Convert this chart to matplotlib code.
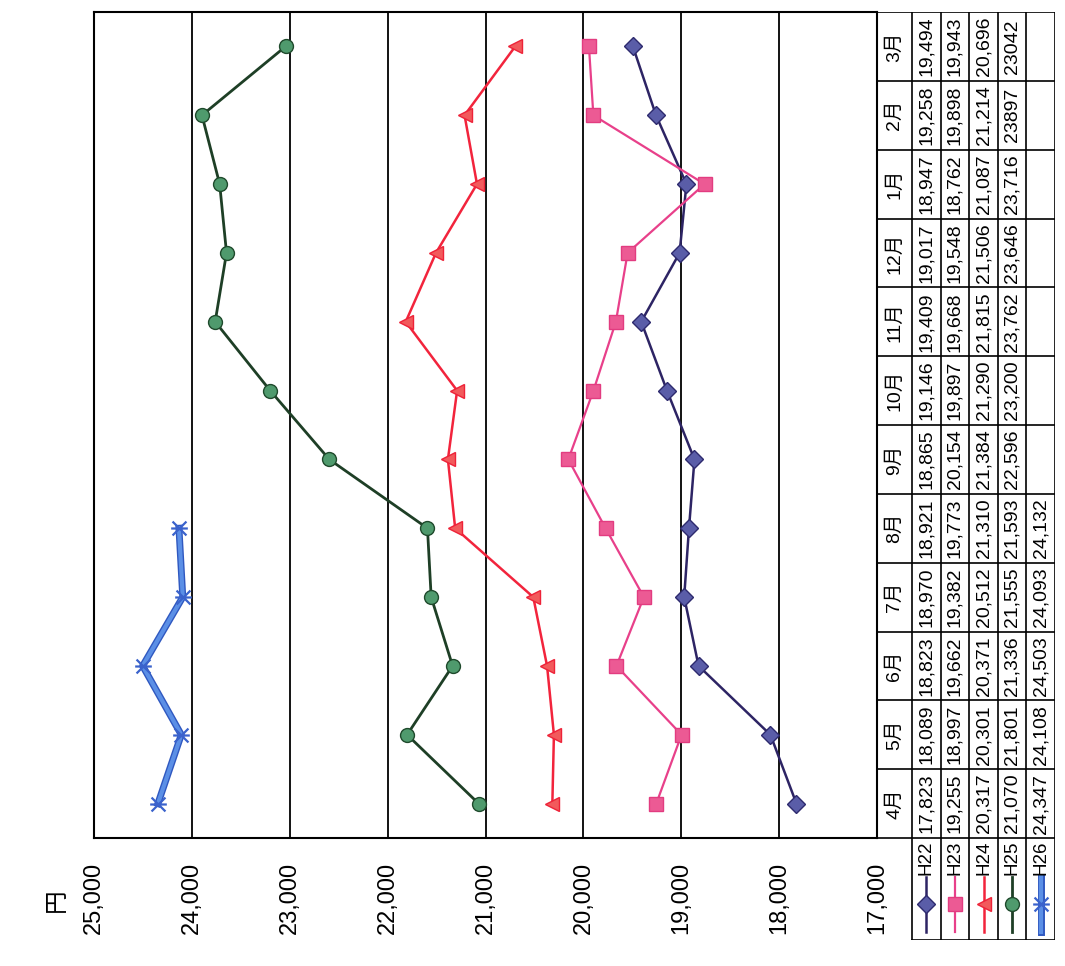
import numpy as np
import matplotlib.pyplot as plt
from matplotlib.path import Path

plt.rcParams['font.family'] = ['Liberation Sans', 'Noto Sans CJK JP']

months = ['4月', '5月', '6月', '7月', '8月', '9月', '10月', '11月', '12月', '1月', '2月', '3月']
series = ['H22', 'H23', 'H24', 'H25', 'H26']
h22 = [17823, 18089, 18823, 18970, 18921, 18865, 19146, 19409, 19017, 18947, 19258, 19494]
h23 = [19255, 18997, 19662, 19382, 19773, 20154, 19897, 19668, 19548, 18762, 19898, 19943]
h24 = [20317, 20301, 20371, 20512, 21310, 21384, 21290, 21815, 21506, 21087, 21214, 20696]
h25 = [21070, 21801, 21336, 21555, 21593, 22596, 23200, 23762, 23646, 23716, 23897, 23042]
h26 = [24347, 24108, 24503, 24093, 24132]
values = [h22, h23, h24, h25, h26]
yticks = np.arange(17000, 25001, 1000)
# cells printed without thousands separator in the source table
no_comma = {('H25', 10), ('H25', 11)}

star = Path([(-1, -1), (1, 1), (-1, 1), (1, -1), (-1.2, 0), (1.2, 0)],
            [Path.MOVETO, Path.LINETO] * 3)
styles = {
    'H22': dict(color='#2d2464', lw=1.8, marker='D', ms=9, mfc='#5a5da8', mec='#2d2a6e'),
    'H23': dict(color='#e8408a', lw=1.6, marker='s', ms=10, mfc='#ec5a94', mec='#e23c80'),
    'H24': dict(color='#f2243c', lw=1.8, marker='<', ms=10, mfc='#f25a5c', mec='#ee2238'),
    'H25': dict(color='#1e3f26', lw=2.0, marker='o', ms=10, mfc='#4f9a6d', mec='#1f4a2c'),
    'H26': dict(color='#5b8fe6', lw=3.0, marker=star, ms=12, mfc='none', mec='#3a62cc', mew=1.6),
}
# H26 is drawn as a double line: darker edge under a lighter core
h26_edge = dict(color='#2f58c0', lw=5.0)

W, H = 1065, 966
fig = plt.figure(figsize=(W / 100, H / 100), dpi=100)


def px(l, t, r, b):
    return [l / W, 1 - b / H, (r - l) / W, (b - t) / H]


# chart (drawn turned a quarter turn, months run upwards)
ax = fig.add_axes(px(94, 12, 877, 838))
ax.set_xlim(25000, 17000)
ax.set_ylim(-0.5, 11.5)
ax.set_xticks(yticks)
ax.set_xticklabels([f'{v:,}' for v in yticks], rotation=90, fontsize=17)
ax.tick_params(axis='x', length=0, pad=17)
ax.set_yticks([])
for s in ax.spines.values():
    s.set_linewidth(1.5)
for v in yticks[1:-1]:
    ax.axvline(v, color='black', lw=1.3, zorder=1)

for name, vals in zip(series, values):
    idx = np.arange(len(vals))
    if name == 'H26':
        ax.plot(vals, idx, zorder=2.9, clip_on=False, **h26_edge)
    ax.plot(vals, idx, zorder=3, clip_on=False, **styles[name])

fig.text(57 / W, 1 - 900 / H, '円', rotation=90, fontsize=17, ha='center', va='center')

# data table on the right
row_h = (838 - 12) / 12
y_bot = -0.5 - (940 - 838) / row_h
tax = fig.add_axes(px(877, 12, 1055, 940))
head_w, col_w = 35, 28.6
tax.set_xlim(0, head_w + 5 * col_w)
tax.set_ylim(y_bot, 11.5)
tax.axis('off')
right = head_w + 5 * col_w
lk = dict(color='black', lw=1.2)
for i in range(13):
    tax.plot([0, right], [i - 0.5, i - 0.5], **lk)
tax.plot([0, 0], [-0.5, 11.5], **lk)
for k in range(6):
    x = head_w + k * col_w
    tax.plot([x, x], [y_bot, 11.5], **lk)
tax.plot([head_w, right], [y_bot, y_bot], **lk)

for i, m in enumerate(months):
    tax.text(head_w / 2, i, m, rotation=90, ha='center', va='center', fontsize=14)

for k, (name, vals) in enumerate(zip(series, values)):
    cx = head_w + (k + 0.5) * col_w
    for i, v in enumerate(vals):
        label = str(v) if (name, i) in no_comma else f'{v:,}'
        tax.text(cx, i, label, rotation=90, ha='center', va='center', fontsize=14)
    st = dict(styles[name])
    mk = {key: st.pop(key) for key in ['marker', 'ms', 'mfc', 'mec'] + (['mew'] if 'mew' in st else [])}
    y0, y1 = y_bot + 0.12, y_bot + 0.92
    if name == 'H26':
        tax.plot([cx, cx], [y0, y1], clip_on=False, **h26_edge)
    tax.plot([cx, cx], [y0, y1], color=st['color'], lw=st['lw'], clip_on=False)
    tax.plot([cx], [(y0 + y1) / 2], ls='none', clip_on=False, **mk)
    tax.text(cx, y1 + 0.03, name, rotation=90, ha='center', va='bottom', fontsize=13.5)

fig.savefig('out.png', dpi=100)
